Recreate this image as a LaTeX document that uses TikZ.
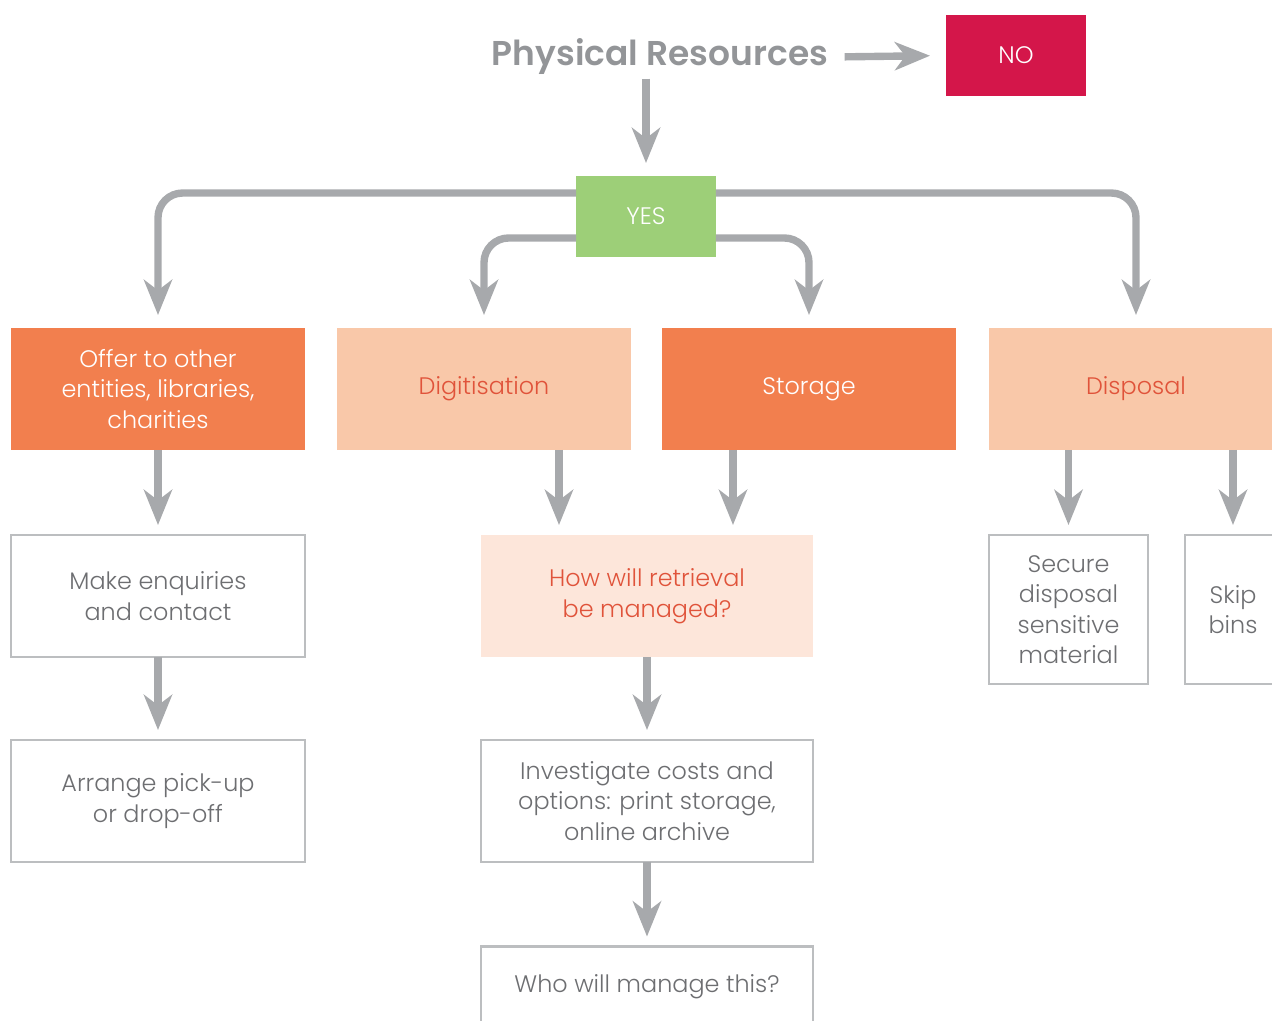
\documentclass[tikz,border=0pt]{standalone}
\usepackage{fontspec}
\setmainfont{Poppins}[UprightFont=* Light, BoldFont=* SemiBold]
\usetikzlibrary{arrows.meta,calc}

\definecolor{arrowgray}{HTML}{A7A9AC}
\definecolor{linegray}{HTML}{BCBEC0}
\definecolor{textgray}{HTML}{6D6E71}
\definecolor{titlegray}{HTML}{939598}
\definecolor{darkorange}{HTML}{F27F4E}
\definecolor{peach}{HTML}{F9C8A9}
\definecolor{lightpeach}{HTML}{FDE6DA}
\definecolor{redtext}{HTML}{E0533A}
\definecolor{nored}{HTML}{D4164A}
\definecolor{yesgreen}{HTML}{9DCF78}

\begin{document}
\begin{tikzpicture}[x=0.02cm,y=-0.02cm,
    conn/.style={draw=arrowgray, line width=4.2pt,
        -{Stealth[length=20pt,width=16pt,inset=6pt]}, rounded corners=14pt},
    box/.style={rectangle, outer sep=0pt, inner sep=2pt, align=center,
        font=\fontsize{13.6}{17.4}\selectfont},
    answer/.style={box, minimum width=2.8cm, minimum height=1.62cm, text=white},
    mainbox/.style={box, minimum width=5.88cm, minimum height=2.44cm},
    darkbox/.style={mainbox, fill=darkorange, text=white},
    lightbox/.style={mainbox, fill=peach, text=redtext},
    stepbox/.style={box, draw=linegray, line width=1.6pt, text=textgray},
    widebox/.style={stepbox, minimum width=6.64cm, minimum height=2.44cm}]

    % Fix the page size
    \useasboundingbox (0,0) rectangle (1272,1021);
    \clip (0,0) rectangle (1272,1021);

    % Title and the two answers
    \node[box, text=titlegray, font=\fontsize{19.6}{24}\bfseries] (title) at (660,57) {Physical Resources};
    \node[answer, fill=nored] (no) at (1016,55.5) {NO};
    \node[answer, fill=yesgreen] (yes) at (646,216.5) {YES};

    % Options
    \node[darkbox] (offer) at (158,389) {Offer to other\\entities, libraries,\\charities};
    \node[lightbox] (digi) at (484,389) {Digitisation};
    \node[darkbox] (storage) at (809,389) {Storage};
    \node[lightbox] (disposal) at (1136,389) {Disposal};

    % Next steps
    \node[stepbox, minimum width=5.88cm, minimum height=2.44cm] (enquire) at (158,596) {Make enquiries\\and contact};
    \node[stepbox, minimum width=5.88cm, minimum height=2.44cm] (arrange) at (158,801) {Arrange pick-up\\or drop-off};
    \node[box, fill=lightpeach, text=redtext, minimum width=6.64cm, minimum height=2.44cm] (how) at (647,596) {How will retrieval\\be managed?};
    \node[widebox] (invest) at (647,801) {Investigate costs and\\options: print storage,\\online archive};
    \node[stepbox, minimum width=6.64cm, minimum height=1.62cm] (who) at (647,987) {Who will manage this?};
    \node[stepbox, minimum width=3.18cm, minimum height=2.98cm] (secure) at (1068.5,609.5) {Secure\\disposal\\sensitive\\material};
    \node[stepbox, minimum width=1.92cm, minimum height=2.98cm] (skip) at (1233,609.5) {Skip\\bins};

    % Arrows from the title
    \draw[conn, shorten <=0.26cm, shorten >=0.32cm] (title.east) -- (no.west);
    \draw[conn, shorten >=0.26cm] (yes.north |- title.south) -- (yes.north);

    % Arrows from YES
    \draw[conn, shorten >=0.26cm] ($(yes.north west)+(0,17)$) -| (offer.north);
    \draw[conn, shorten >=0.26cm] ($(yes.south west)+(0,-19)$) -| (digi.north);
    \draw[conn, shorten >=0.26cm] ($(yes.south east)+(0,-19)$) -| (storage.north);
    \draw[conn, shorten >=0.26cm] ($(yes.north east)+(0,17)$) -| (disposal.north);

    % Arrows to the next steps
    \path (how.north) ++(-88,0) coordinate (digiin) ++(174,0) coordinate (storein);
    \draw[conn, shorten >=0.2cm] (offer.south) -- (enquire.north);
    \draw[conn, shorten >=0.2cm] (digiin |- digi.south) -- (digiin);
    \draw[conn, shorten >=0.2cm] (storein |- storage.south) -- (storein);
    \draw[conn, shorten >=0.2cm] (secure.north |- disposal.south) -- (secure.north);
    \draw[conn, shorten >=0.2cm] (skip.north |- disposal.south) -- (skip.north);
    \draw[conn, shorten >=0.2cm] (enquire.south) -- (arrange.north);
    \draw[conn, shorten >=0.2cm] (how.south) -- (invest.north);
    \draw[conn, shorten >=0.2cm] (invest.south) -- (who.north);
\end{tikzpicture}
\end{document}
